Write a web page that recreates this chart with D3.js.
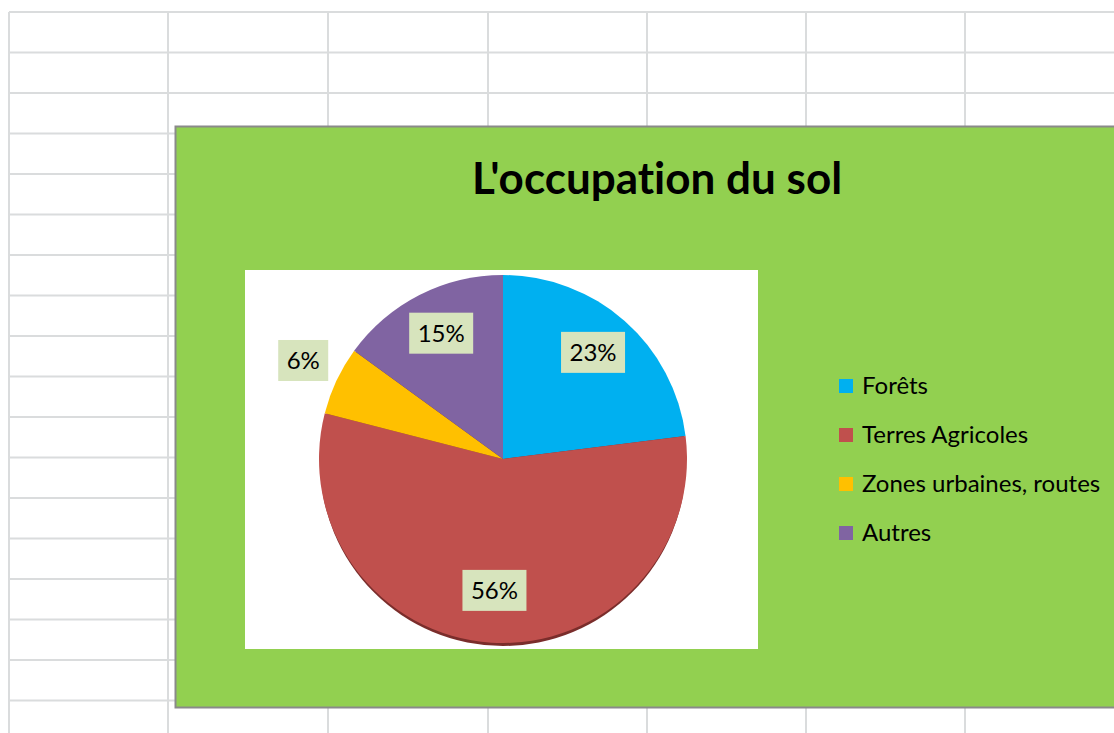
<!DOCTYPE html>
<html>
<head>
<meta charset="utf-8">
<script src="https://cdn.jsdelivr.net/npm/d3@7"></script>
<style>
  body { margin: 0; background: #fff; }
  svg { display: block; }
  text { font-variant-ligatures: none; font-feature-settings: "liga" 0; }
</style>
</head>
<body>
<svg id="myGraph" width="1114" height="733"></svg>
<script>
var categories = ["Forêts", "Terres Agricoles", "Zones urbaines, routes", "Autres"];
var values = [23, 56, 6, 15];
var labels = ["23%", "56%", "6%", "15%"];
var colors = ["#00b0f0", "#c0504d", "#ffc000", "#8064a2"];
var title = "L'occupation du sol";

var svg = d3.select("#myGraph");
var font = "Lato, 'Open Sans', sans-serif";

/* feuille de calcul en fond */
var gridG = svg.append("g");
var colX = [9, 168, 328, 488, 647, 806, 965];
var rowY = d3.range(18).map(function(i) { return 12 + i * 40.5; });
gridG.selectAll("line.v")
    .data(colX)
    .enter().append("line")
        .attr("x1", function(d) { return d; })
        .attr("x2", function(d) { return d; })
        .attr("y1", 12).attr("y2", 733)
        .attr("stroke", "#dadcdd").attr("stroke-width", 2);
gridG.selectAll("line.h")
    .data(rowY)
    .enter().append("line")
        .attr("x1", 9).attr("x2", 1114)
        .attr("y1", function(d) { return d; })
        .attr("y2", function(d) { return d; })
        .attr("stroke", "#dadcdd").attr("stroke-width", 2);

/* zone du graphique */
svg.append("rect")
    .attr("x", 175.5).attr("y", 126.5)
    .attr("width", 1000).attr("height", 581)
    .attr("fill", "#92d050")
    .attr("stroke", "#8a8a8a").attr("stroke-width", 2);

svg.append("text")
    .attr("x", 657).attr("y", 194)
    .attr("text-anchor", "middle")
    .style("font-family", font)
    .style("font-weight", "bold")
    .style("font-size", "44px")
    .attr("fill", "#000")
    .text(title);

/* zone de traçage */
svg.append("rect")
    .attr("x", 245).attr("y", 270)
    .attr("width", 513).attr("height", 379)
    .attr("fill", "#fff");

var cx = 503, cy = 459, radius = 184;
var pieG = svg.append("g")
    .attr("transform", "translate(" + cx + "," + cy + ")");

var pie = d3.pie().sort(null).value(function(d) { return d; });
var arcs = pie(values);
var arc = d3.arc().innerRadius(0).outerRadius(radius);
var inArc = d3.arc().innerRadius(radius * 0.74).outerRadius(radius * 0.74);
var outArc = d3.arc().innerRadius(radius * 1.2).outerRadius(radius * 1.2);

/* ombre 3D */
pieG.append("ellipse")
    .attr("cx", 0).attr("cy", 3)
    .attr("rx", radius - 1).attr("ry", radius)
    .attr("fill", "#7a2d2b");

pieG.selectAll("path")
    .data(arcs)
    .enter().append("path")
        .attr("d", arc)
        .attr("fill", function(d, i) { return colors[i]; });

/* étiquettes */
var labG = pieG.selectAll("g.lab")
    .data(arcs)
    .enter().append("g")
        .attr("transform", function(d) {
            var p = (d.endAngle - d.startAngle) < 0.5 ? outArc.centroid(d) : inArc.centroid(d);
            return "translate(" + p[0] + "," + (p[1] - 5) + ")";
        });
labG.append("rect")
    .attr("x", function(d, i) { return labels[i].length > 2 ? -32 : -25; })
    .attr("y", -20)
    .attr("width", function(d, i) { return labels[i].length > 2 ? 64 : 50; })
    .attr("height", 41)
    .attr("fill", "#d7e4bd");
labG.append("text")
    .attr("text-anchor", "middle")
    .attr("y", 9)
    .style("font-family", font)
    .style("font-size", "24px")
    .attr("fill", "#000")
    .text(function(d, i) { return labels[i]; });

/* légende */
var legG = svg.append("g").attr("transform", "translate(839,379)");
var leg = legG.selectAll("g")
    .data(categories)
    .enter().append("g")
        .attr("transform", function(d, i) { return "translate(0," + (i * 49) + ")"; });
leg.append("rect")
    .attr("width", 14).attr("height", 14)
    .attr("fill", function(d, i) { return colors[i]; });
leg.append("text")
    .attr("x", 23).attr("y", 15)
    .style("font-family", font)
    .style("font-size", "24px")
    .attr("fill", "#000")
    .text(function(d) { return d; });
</script>
</body>
</html>
